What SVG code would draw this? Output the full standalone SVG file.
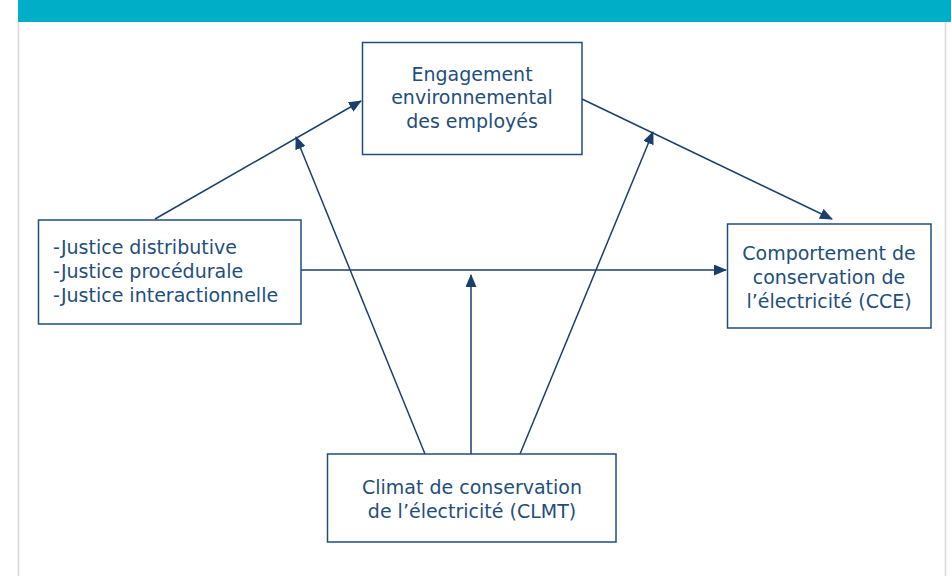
<svg xmlns="http://www.w3.org/2000/svg" width="951" height="576" viewBox="0 0 951 576">
<style>
.box{fill:#fff;stroke:#1f4e7c;stroke-width:1.5}
.t{font-family:"DejaVu Sans","Liberation Sans",sans-serif;font-size:19px;fill:#1f4e7c}
.c{stroke:#1b3f6b;stroke-width:1.5;fill:none;marker-end:url(#ah)}
</style>
<defs>
<marker id="ah" viewBox="0 0 13 11" refX="12" refY="5.5" markerWidth="13" markerHeight="11" markerUnits="userSpaceOnUse" orient="auto">
<path d="M0,0 L13,5.5 L0,11 z" fill="#1b3f6b"/>
</marker>
</defs>
<rect x="0" y="0" width="951" height="576" fill="#fff"/>
<line x1="18.5" y1="22" x2="18.5" y2="576" stroke="#d8d8d8" stroke-width="1.5"/>
<line x1="945.5" y1="22" x2="945.5" y2="576" stroke="#d8d8d8" stroke-width="1.5"/>
<rect x="18" y="0" width="933" height="22" fill="#00aec7"/>
<g id="connectors">
<line class="c" x1="155" y1="219" x2="361" y2="101"/>
<line class="c" x1="582" y1="99" x2="832" y2="219"/>
<line class="c" x1="301" y1="270" x2="726" y2="270"/>
<line class="c" x1="471" y1="454" x2="471" y2="275"/>
<line class="c" x1="425" y1="454" x2="296" y2="137"/>
<line class="c" x1="520" y1="454" x2="653" y2="132"/>
</g>
<g id="engagement">
<rect class="box" x="362.5" y="42.5" width="219.5" height="112"/>
<text class="t" text-anchor="middle" x="472" y="81">Engagement</text>
<text class="t" text-anchor="middle" x="472" y="104">environnemental</text>
<text class="t" text-anchor="middle" x="472" y="128">des employés</text>
</g>
<g id="justice">
<rect class="box" x="38.5" y="220" width="262.5" height="104"/>
<text class="t" x="53" y="254">-Justice distributive</text>
<text class="t" x="53" y="278">-Justice procédurale</text>
<text class="t" x="53" y="302">-Justice interactionnelle</text>
</g>
<g id="cce">
<rect class="box" x="727.5" y="224" width="203.5" height="104"/>
<text class="t" text-anchor="middle" x="829" y="260">Comportement de</text>
<text class="t" text-anchor="middle" x="829" y="284">conservation de</text>
<text class="t" text-anchor="middle" x="829" y="308">l’électricité (CCE)</text>
</g>
<g id="clmt">
<rect class="box" x="327.5" y="454" width="288.5" height="88"/>
<text class="t" text-anchor="middle" x="472" y="494">Climat de conservation</text>
<text class="t" text-anchor="middle" x="472" y="518">de l’électricité (CLMT)</text>
</g>
</svg>
